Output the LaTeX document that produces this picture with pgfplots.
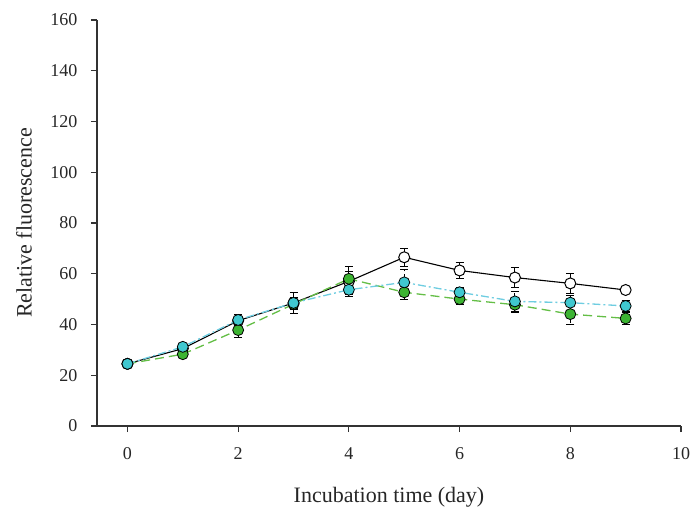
\documentclass[border=0pt]{standalone}
\usepackage{pgfplots}
\pgfplotsset{compat=1.18}
\usepackage{fontspec}
\setmainfont{Liberation Serif}

\definecolor{cyanfill}{RGB}{64,200,208}
\definecolor{cyanline}{RGB}{110,205,225}
\definecolor{greenfill}{RGB}{60,180,50}
\definecolor{greenline}{RGB}{100,190,70}

\pgfplotstableread{
x  y     e
0  24.5  0.5
1  30.5  1.0
2  41.5  2.5
3  48.5  4.0
4  57.0  6.0
5  66.5  3.5
6  61.3  3.0
7  58.5  4.0
8  56.2  4.0
9  53.6  1.0
}\control

\pgfplotstableread{
x  y     e
0  24.5  0.5
1  28.3  1.0
2  37.8  3.0
3  48.0  2.0
4  58.0  3.0
5  52.7  3.0
6  50.0  2.0
7  47.8  3.0
8  44.1  4.0
9  42.4  2.5
}\greenset

\pgfplotstableread{
x  y     e
0  24.5  0.5
1  31.2  1.0
2  41.8  2.0
3  48.5  2.0
4  53.7  2.0
5  56.6  5.0
6  52.7  2.0
7  49.1  4.0
8  48.6  3.0
9  47.3  2.0
}\cyanset

\begin{document}
\begin{tikzpicture}
\begin{axis}[
  name=main,
  scale only axis,
  width=584pt, height=406pt,
  xmin=-0.55, xmax=10,
  ymin=0, ymax=160,
  axis x line*=bottom,
  axis y line*=left,
  axis line style={line width=1.1pt, black!80},
  tick align=outside,
  major tick length=6pt,
  tick style={line width=1.1pt, black!80},
  xtick={0,2,...,10},
  ytick={0,20,...,160},
  /pgf/number format/assume math mode=true,
  ticklabel style={font=\fontsize{18}{20}\selectfont, text=black!85},
  xticklabel style={yshift=-12pt},
  yticklabel style={xshift=-10pt},
  xlabel={Incubation time (day)},
  ylabel={Relative fluorescence},
  label style={font=\fontsize{22}{24}\selectfont, text=black!85},
  xlabel style={at={(rel axis cs:0.5,0)}, anchor=center, yshift=-71pt},
  ylabel style={at={(rel axis cs:0,0.50)}, anchor=center, yshift=73pt},
  clip=false,
  error bars/error bar style={line width=1pt, black},
  error bars/error mark options={rotate=90, mark size=4pt, line width=1pt, black},
]
% control: open circles, solid black line
\addplot[black, line width=1.1pt, mark=*, mark size=5.5pt,
  mark options={solid, fill=white, draw=black, line width=1pt},
  error bars/.cd, y dir=both, y explicit]
  table[x=x, y=y, y error=e] {\control};
% green series: long dashes
\addplot[greenline, line width=1.3pt, dash pattern=on 9pt off 5pt, mark=*, mark size=5.5pt,
  mark options={solid, fill=greenfill, draw=black, line width=0.8pt},
  error bars/.cd, y dir=both, y explicit]
  table[x=x, y=y, y error=e] {\greenset};
% cyan series: dash-dot
\addplot[cyanline, line width=1.3pt, dash pattern=on 8pt off 3pt on 2pt off 3pt, mark=*, mark size=5.5pt,
  mark options={solid, fill=cyanfill, draw=black, line width=0.8pt},
  error bars/.cd, y dir=both, y explicit]
  table[x=x, y=y, y error=e] {\cyanset};
\end{axis}
\pgfresetboundingbox
\path[use as bounding box] ([shift={(-97pt,-85pt)}]main.south west) rectangle ([shift={(15pt,20pt)}]main.north east);
\end{tikzpicture}
\end{document}
